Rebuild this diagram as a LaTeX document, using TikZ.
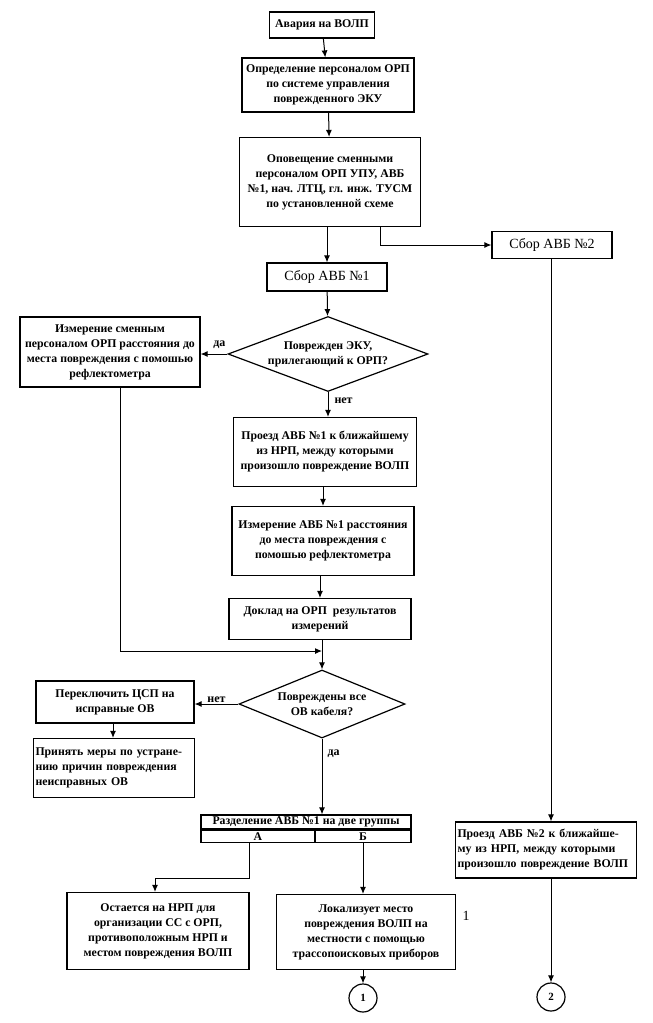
\documentclass[tikz,border=0pt]{standalone}
\usepackage{fontspec}
\setmainfont{Liberation Serif}
\usetikzlibrary{shapes.geometric,arrows.meta}
\begin{document}
\begin{tikzpicture}[x=1pt,y=-1pt,
  line width=1pt,
  arr/.style={-{Latex[length=7pt,width=6pt]}},
  box/.style={draw,line width=1.2pt,inner sep=1pt,align=center,
    font=\bfseries\fontsize{11.8}{15}\selectfont},
  plain/.style={draw,line width=1.2pt,inner sep=1pt,align=center,
    font=\fontsize{14}{16}\selectfont},
  dia/.style={draw,diamond,line width=1.2pt,inner sep=0pt,aspect=2.6,align=center,
    font=\bfseries\fontsize{11.8}{15}\selectfont},
  lbl/.style={inner sep=1pt,font=\bfseries\fontsize{12}{14}\selectfont},
  circ/.style={draw,circle,line width=1.2pt,minimum size=28pt,inner sep=0pt,
    font=\bfseries\fontsize{11}{13}\selectfont}
]
\useasboundingbox (0,0) rectangle (653,1023);

\node[box,minimum width=105pt,minimum height=26pt] (avar) at (322,25) {Авария на ВОЛП};
\node[box,minimum width=172pt,minimum height=54pt] (opr) at (328,85)
  {Определение персоналом ОРП\\по системе управления\\поврежденного ЭКУ};
\node[box,minimum width=181pt,minimum height=89pt] (opov) at (330,182)
  {Оповещение сменными\\персоналом ОРП УПУ, АВБ\\№1, нач. ЛТЦ, гл. инж. ТУСМ\\по установленной схеме};
\node[plain,minimum width=120pt,minimum height=28pt] (sbor1) at (327,277) {Сбор АВБ №1};
\node[plain,minimum width=120pt,minimum height=27pt] (sbor2) at (552,245) {Сбор АВБ №2};

\node[dia,minimum width=200pt,minimum height=75pt] (d1) at (328,354)
  {Поврежден ЭКУ,\\прилегающий к ОРП?};
\node[box,minimum width=180pt,minimum height=70pt] (izm1) at (110,352)
  {Измерение сменным\\персоналом ОРП расстояния до\\места повреждения с помошью\\рефлектометра};
\node[box,minimum width=183pt,minimum height=69pt] (proezd1) at (325,452)
  {Проезд АВБ №1 к ближайшему\\из НРП, между которыми\\произошло повреждение ВОЛП};
\node[box,minimum width=182pt,minimum height=69pt] (izm2) at (323,541)
  {Измерение АВБ №1 расстояния\\до места повреждения с\\помошью рефлектометра};
\node[box,minimum width=182pt,minimum height=41pt] (doklad) at (320,619)
  {Доклад на ОРП \ результатов\\измерений};
\coordinate (junc) at (322,651);

\node[dia,minimum width=166pt,minimum height=68pt] (d2) at (322,704)
  {Повреждены все\\ОВ кабеля?};
\node[box,minimum width=158pt,minimum height=42pt] (perekl) at (115,702)
  {Переключить ЦСП на\\исправные ОВ};
\node[box,minimum width=161pt,minimum height=59pt,align=left,text width=157pt] (prin) at (114,768)
  {Принять меры по устране-\\нию причин повреждения\\неисправных ОВ};

\node[box,minimum width=210pt,minimum height=14pt,inner sep=0pt] (tabh) at (306,822)
  {Разделение АВБ №1 на две группы};
\node[box,minimum width=114pt,minimum height=12pt,inner sep=0pt,anchor=north west] (taba) at (tabh.south west) {А};
\node[box,minimum width=96pt,minimum height=12pt,inner sep=0pt,anchor=north east] (tabb) at (tabh.south east) {Б};

\node[box,minimum width=182pt,minimum height=77pt] (ost) at (158,931)
  {Остается на НРП для\\организации СС с ОРП,\\противоположным НРП и\\местом повреждения ВОЛП};
\node[box,minimum width=179pt,minimum height=75pt] (lok) at (366,932)
  {Локализует место\\повреждения ВОЛП на\\местности с помощью\\трассопоисковых приборов};
\node[circ] (c1) at (363,998) {1};

\node[box,minimum width=181pt,minimum height=56pt,align=left,text width=177pt] (proezd2) at (546,850)
  {Проезд АВБ №2 к ближайше-\\му из НРП, между которыми\\произошло повреждение ВОЛП};
\node[circ] (c2) at (551,997) {2};

\node[inner sep=0pt,font=\fontsize{14}{16}\selectfont] (one) at (466,916) {1};

% connectors
\draw[arr] (avar) -- (opr);
\draw[arr] (opr) -- (opov);
\draw[arr] (opov.south -| sbor1.north) -- (sbor1.north);
\draw[arr] (opov.south -| 380,0) |- (sbor2.west);
\draw[arr] (sbor1) -- (d1);
\draw[arr] (d1.west) -- (d1.west -| izm1.east) node[lbl,pos=0.3,above=4pt] (lda1) {да};
\draw[arr] (d1.south) -- (d1.south |- proezd1.north) node[lbl,pos=0.35,right=5pt] (lnet1) {нет};
\draw[arr] (proezd1.south -| izm2.north) -- (izm2.north);
\draw[arr] (izm2.south -| doklad.north) -- (doklad.north);
\draw (doklad.south -| junc) -- (junc);
\draw[arr] ([xshift=10pt]izm1.south) |- (junc);
\draw[arr] (junc) -- (d2.north);
\draw[arr] (d2.west) -- (d2.west -| perekl.east) node[lbl,midway,above=0pt] (lnet2) {нет};
\draw[arr] (perekl.south -| 113,0) -- (prin.north -| 113,0);
\draw[arr] (d2.south) -- (d2.south |- tabh.north) node[lbl,pos=0.2,right=4pt] (lda2) {да};
\draw[arr] (taba.south -| ost.east) -- ++(0,36) -| ([xshift=-3pt]ost.north);
\draw[arr] (tabb.south -| c1) -- (c1 |- lok.north);
\draw[arr] (lok.south -| c1) -- (c1.north);
\draw[arr] (sbor2.south -| c2) -- (c2 |- proezd2.north);
\draw[arr] (proezd2.south -| c2) -- (c2.north);
\end{tikzpicture}
\end{document}
